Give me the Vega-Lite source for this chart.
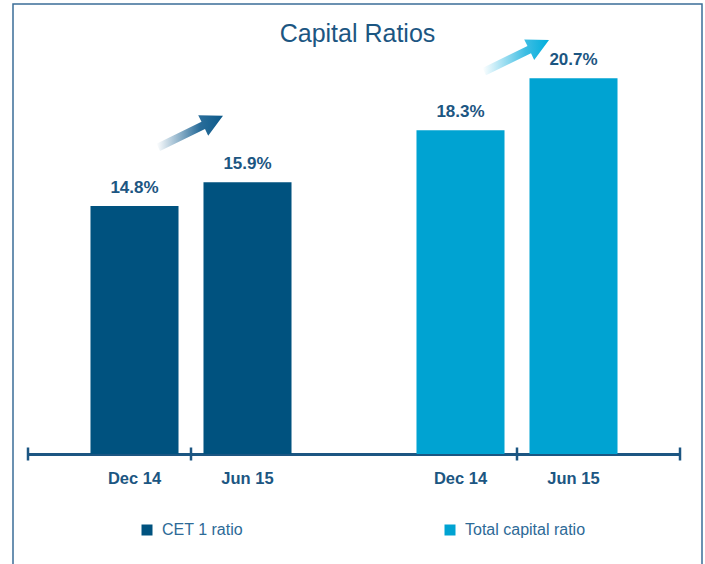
{
  "$schema": "https://vega.github.io/schema/vega-lite/v6.json",
  "width": 689,
  "height": 561,
  "autosize": "none",
  "padding": {"left": 13, "top": 4, "right": 3, "bottom": -1},
  "title": {"text": "Capital Ratios", "font": "Liberation Sans", "fontSize": 25, "fontWeight": "normal", "color": "#1c5682", "anchor": "middle", "frame": "group", "baseline": "alphabetic", "offset": -63},
  "data": {"values": [
    {"group": "CET 1 ratio", "period": "Dec 14", "value": 14.8},
    {"group": "CET 1 ratio", "period": "Jun 15", "value": 15.9},
    {"group": "Total capital ratio", "period": "Dec 14", "value": 18.3},
    {"group": "Total capital ratio", "period": "Jun 15", "value": 20.7}
  ]},
  "encoding": {
    "x": {"field": "group", "type": "nominal", "sort": ["CET 1 ratio", "Total capital ratio"],
      "scale": {"range": [15, 667], "paddingInner": 0, "paddingOuter": 0},
      "axis": {"title": null, "labels": false, "ticks": false, "domain": true, "domainColor": "#1c5682", "domainWidth": 3, "grid": false, "offset": -111}}
  },
  "layer": [
    {
      "mark": {"type": "bar"},
      "encoding": {
        "xOffset": {"field": "period", "type": "nominal", "sort": ["Dec 14", "Jun 15"], "scale": {"paddingInner": 0.221, "paddingOuter": 0.553}},
        "y": {"field": "value", "type": "quantitative", "stack": null, "scale": {"domain": [3.35, 24.13], "range": [450, 0], "clamp": true, "zero": false, "nice": false}, "axis": null},
        "y2": {"datum": 0},
        "color": {"field": "group", "type": "nominal",
          "scale": {"domain": ["CET 1 ratio", "Total capital ratio"], "range": ["#00527f", "#00a3d2"]},
          "legend": {"orient": "none", "legendX": 126, "legendY": 518, "direction": "horizontal", "title": null, "symbolType": "square", "symbolSize": 121, "symbolStrokeWidth": 0, "symbolOpacity": 1, "labelFont": "Liberation Sans", "labelFontSize": 16, "labelColor": "#2d6a97", "labelOffset": 7, "columnPadding": 199, "padding": 0}}
      }
    },
    {
      "transform": [{"calculate": "format(datum.value, '.1f') + '%'", "as": "label"}],
      "mark": {"type": "text", "font": "Liberation Sans", "fontSize": 17, "fontWeight": "bold", "color": "#1c5682", "baseline": "alphabetic", "dy": -13},
      "encoding": {
        "xOffset": {"field": "period", "type": "nominal", "sort": ["Dec 14", "Jun 15"], "scale": {"paddingInner": 0.221, "paddingOuter": 0.553}},
        "y": {"field": "value", "type": "quantitative"},
        "text": {"field": "label"}
      }
    },
    {
      "mark": {"type": "text", "font": "Liberation Sans", "fontSize": 16.5, "fontWeight": "bold", "color": "#1c5682", "baseline": "alphabetic", "dy": 30},
      "encoding": {
        "xOffset": {"field": "period", "type": "nominal", "sort": ["Dec 14", "Jun 15"], "scale": {"paddingInner": 0.221, "paddingOuter": 0.553}},
        "y": {"datum": 0, "type": "quantitative"},
        "text": {"field": "period"}
      }
    },
    {
      "transform": [{"filter": "datum.period === 'Dec 14'"}],
      "mark": {"type": "tick", "orient": "vertical", "size": 13, "thickness": 2.5, "color": "#1c5682", "opacity": 1},
      "encoding": {"y": {"datum": 0, "type": "quantitative"}}
    },
    {
      "transform": [{"filter": "datum.period === 'Dec 14' && datum.group === 'CET 1 ratio'"}],
      "mark": {"type": "tick", "orient": "vertical", "size": 13, "thickness": 2.5, "color": "#1c5682", "opacity": 1},
      "encoding": {
        "x": {"field": "group", "type": "nominal", "bandPosition": 0},
        "y": {"datum": 0, "type": "quantitative"}
      }
    },
    {
      "transform": [{"filter": "datum.period === 'Dec 14' && datum.group === 'Total capital ratio'"}],
      "mark": {"type": "tick", "orient": "vertical", "size": 13, "thickness": 2.5, "color": "#1c5682", "opacity": 1},
      "encoding": {
        "x": {"field": "group", "type": "nominal", "bandPosition": 1},
        "y": {"datum": 0, "type": "quantitative"}
      }
    },
    {
      "transform": [{"filter": "datum.period === 'Dec 14' && datum.group === 'CET 1 ratio'"}],
      "mark": {"type": "point", "shape": "M-34.5,-62.3L10.5,-84.2L7.2,-90.8L32,-90.2L17.2,-70.3L14,-77L-31,-55.1Z", "size": 4, "filled": true, "opacity": 1, "strokeWidth": 0,
        "fill": {"gradient": "linear", "x1": 0, "y1": 0, "x2": 1, "y2": 0, "stops": [{"offset": 0, "color": "#ffffff"}, {"offset": 0.65, "color": "#2a6d9a"}, {"offset": 1, "color": "#0c5a8a"}]}},
      "encoding": {"y": {"field": "value", "type": "quantitative"}}
    },
    {
      "transform": [{"filter": "datum.period === 'Dec 14' && datum.group === 'Total capital ratio'"}],
      "mark": {"type": "point", "shape": "M-34.5,-62.3L10.5,-84.2L7.2,-90.8L32,-90.2L17.2,-70.3L14,-77L-31,-55.1Z", "size": 4, "filled": true, "opacity": 1, "strokeWidth": 0,
        "fill": {"gradient": "linear", "x1": 0, "y1": 0, "x2": 1, "y2": 0, "stops": [{"offset": 0, "color": "#ffffff"}, {"offset": 0.65, "color": "#3dbde3"}, {"offset": 1, "color": "#00aedc"}]}},
      "encoding": {"y": {"field": "value", "type": "quantitative"}}
    }
  ],
  "config": {
    "view": {"stroke": "#3b6e98", "strokeWidth": 1.5},
    "font": "Liberation Sans"
  }
}
